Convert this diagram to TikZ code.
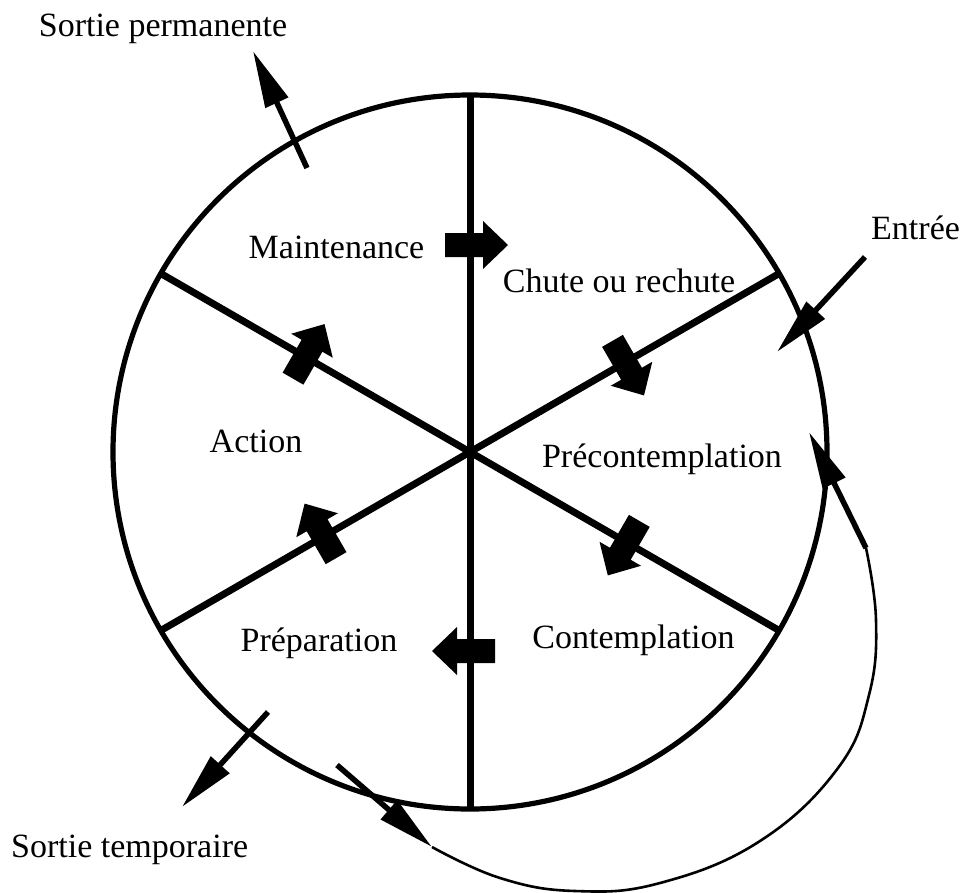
\documentclass[tikz,border=0pt]{standalone}
\usepackage{fontspec}
\setmainfont{Liberation Serif}
\usetikzlibrary{arrows.meta}
\begin{document}
\begin{tikzpicture}[x=1pt,y=-1pt,
  lbl/.style={inner sep=0pt, anchor=base, font=\fontsize{34}{40}\selectfont},
  spoke/.style={line width=7pt},
  rim/.style={line width=5.2pt},
  extarrow/.style={line width=5.5pt, -{Triangle[length=57pt,width=24pt]}},
  thinreturn/.style={line width=2.6pt},
  blockfill/.style={fill=black}]
\useasboundingbox (0,0) rectangle (964,892);
\coordinate (C) at (470,452);
% circle and spokes
\draw[rim] (C) circle[radius=357pt];
\foreach \a in {30,90,150,210,270,330}
  \draw[spoke] (C) -- ++(\a:357);
% block arrows across spokes
\newcommand{\blockarrow}[3]{%
  \fill[blockfill, shift={(#1,#2)}, rotate=#3]
    (-25,-12) -- (13,-12) -- (13,-24) -- (38,0) -- (13,24) -- (13,12) -- (-25,12) -- cycle;}
\blockarrow{470}{245}{0}
\blockarrow{625}{362.5}{-60}
\blockarrow{626.8}{542.5}{-120}
\blockarrow{470}{651}{180}
\blockarrow{323.6}{536.5}{120}
\blockarrow{305.5}{357}{60}
% labels
\node[lbl] (sp) at (163,36) {Sortie permanente};
\node[lbl] (mt) at (336.5,258) {Maintenance};
\node[lbl] (ch) at (619,292) {Chute ou rechute};
\node[lbl, anchor=base west] (en) at (871,239) {Entrée};
\node[lbl] (ac) at (256,452) {Action};
\node[lbl] (pr) at (319,651) {Préparation};
\node[lbl] (pc) at (662,467) {Précontemplation};
\node[lbl] (co) at (633.5,648) {Contemplation};
\node[lbl, anchor=base west] (st) at (11,857) {Sortie temporaire};
% external arrows
\coordinate (spA) at (307,168); \coordinate (spB) at (253,51);
\coordinate (enA) at (865,257); \coordinate (enB) at (777,352);
\coordinate (stA) at (268,712); \coordinate (stB) at (182,807);
\draw[extarrow] (spA) -- (spB);
\draw[extarrow] (enA) -- (enB);
\draw[extarrow] (stA) -- (stB);
% return loop
\coordinate (rA) at (337,765); \coordinate (rB) at (432,847);
\coordinate (rC) at (866,548); \coordinate (rD) at (809,432);
\draw[extarrow] (rA) -- (rB);
\draw[thinreturn] plot[smooth, tension=0.7] coordinates
  {(rB) (500,878) (575,891) (660,883) (760,841) (838,768) (869,695) (876,620) (rC)};
\draw[extarrow] (rC) -- (rD);
\end{tikzpicture}
\end{document}
